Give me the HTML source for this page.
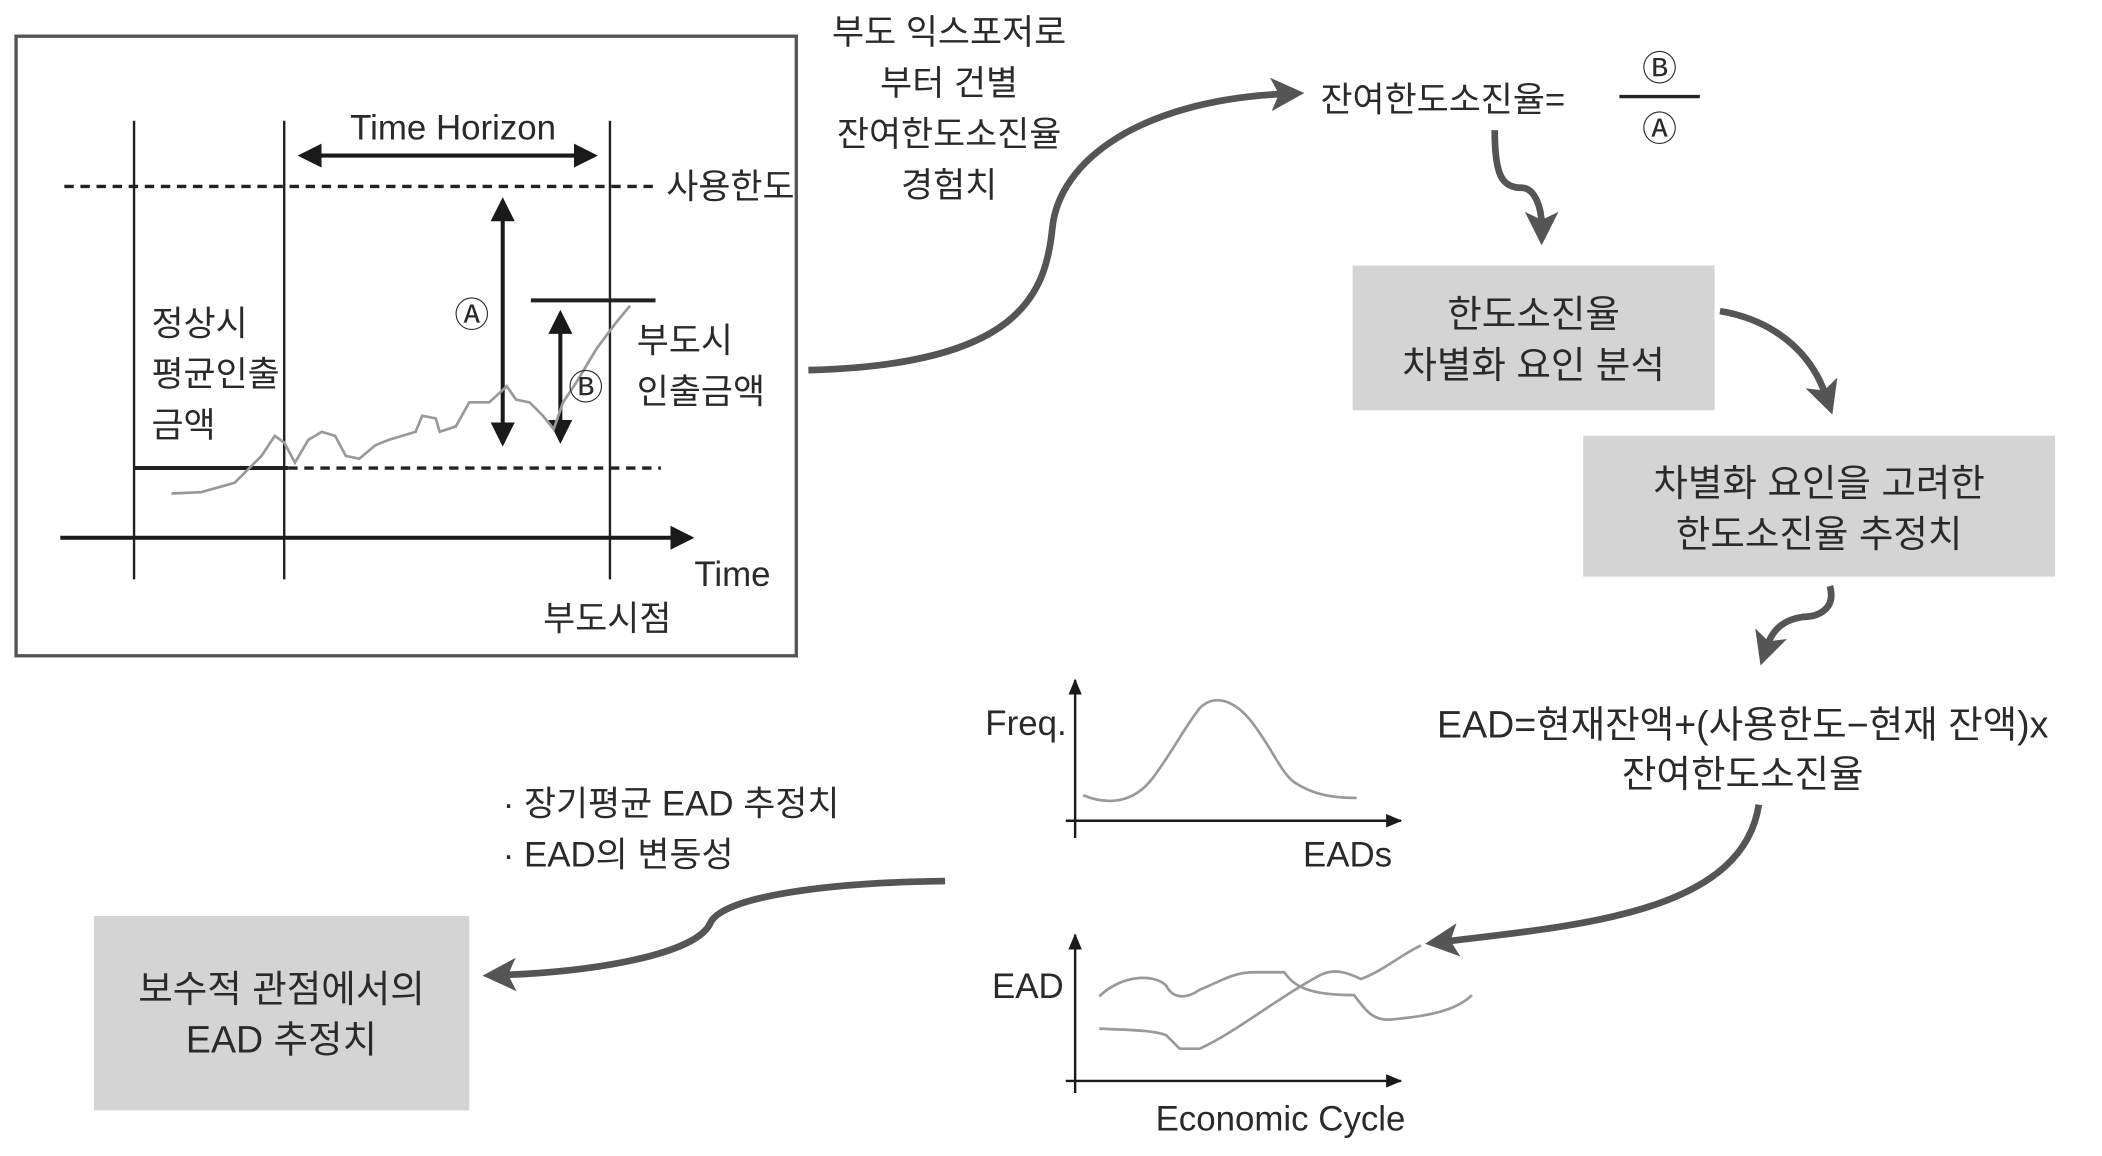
<!DOCTYPE html>
<html><head><meta charset="utf-8"><style>
html,body{margin:0;padding:0;background:#fff;}
svg{display:block;}
text{font-family:"Liberation Sans","Noto Sans CJK KR",sans-serif;fill:#2a2a2a;}
</style></head><body>
<svg width="2102" height="1156" viewBox="0 0 1568 862" preserveAspectRatio="none" xmlns="http://www.w3.org/2000/svg">
<defs>
<marker id="ah" markerWidth="6" markerHeight="6" refX="5" refY="3" orient="auto-start-reverse" markerUnits="strokeWidth"><path d="M0,0 L6,3 L0,6 z" fill="#1a1a1a"/></marker>
<marker id="bh" markerWidth="5" markerHeight="5" refX="2" refY="2.5" orient="auto" markerUnits="strokeWidth"><path d="M0,0 L5,2.5 L0,5 L1.2,2.5 z" fill="#555"/></marker>
<marker id="sh" markerWidth="12" markerHeight="10" refX="11" refY="5" orient="auto" markerUnits="userSpaceOnUse"><path d="M0,0 L12,5 L0,10 z" fill="#1a1a1a"/></marker>
</defs>
<rect x="12" y="27" width="582" height="462" fill="none" stroke="#555" stroke-width="2.5"/>
<g stroke="#222" stroke-width="1.8">
<line x1="100" y1="90" x2="100" y2="432"/>
<line x1="212" y1="90" x2="212" y2="432"/>
<line x1="455" y1="90" x2="455" y2="432"/>
</g>
<line x1="48" y1="139" x2="490" y2="139" stroke="#222" stroke-width="2.5" stroke-dasharray="7,5"/>
<line x1="215" y1="349" x2="493" y2="349" stroke="#222" stroke-width="2.5" stroke-dasharray="7,5"/>
<line x1="100" y1="349" x2="215" y2="349" stroke="#222" stroke-width="3"/>
<line x1="396" y1="224" x2="489" y2="224" stroke="#222" stroke-width="3"/>
<g stroke="#1a1a1a" stroke-width="3">
<line x1="225" y1="116" x2="443" y2="116" marker-start="url(#ah)" marker-end="url(#ah)"/>
<line x1="375" y1="150" x2="375" y2="330" marker-start="url(#ah)" marker-end="url(#ah)"/>
<line x1="418" y1="234" x2="418" y2="328" marker-start="url(#ah)" marker-end="url(#ah)"/>
<line x1="45" y1="401" x2="515" y2="401" marker-end="url(#ah)"/>
</g>
<polyline points="128,368 150,367 175,360 195,340 205,325 212,330 220,345 230,328 240,322 250,325 258,340 268,342 280,332 290,328 310,322 315,310 325,312 328,322 340,318 350,300 365,300 378,288 385,298 395,300 405,310 413,320 420,300 430,285 445,260 460,240 470,228" fill="none" stroke="#999" stroke-width="2"/>
<g font-size="26">
<text x="338" y="104" text-anchor="middle">Time Horizon</text>
<text x="497" y="148">사용한도</text>
<text x="352" y="244" text-anchor="middle">Ⓐ</text>
<text x="437" y="298" text-anchor="middle">Ⓑ</text>
<text x="113" y="250">정상시</text>
<text x="113" y="288">평균인출</text>
<text x="113" y="326">금액</text>
<text x="475" y="263">부도시</text>
<text x="475" y="301">인출금액</text>
<text x="518" y="437">Time</text>
<text x="453" y="470" text-anchor="middle">부도시점</text>
<text x="708" y="33" text-anchor="middle">부도 익스포저로</text>
<text x="708" y="71" text-anchor="middle">부터 건별</text>
<text x="708" y="109" text-anchor="middle">잔여한도소진율</text>
<text x="708" y="147" text-anchor="middle">경험치</text>
<text x="985" y="83">잔여한도소진율=</text>
<text x="1238" y="60" text-anchor="middle">Ⓑ</text>
<text x="1238" y="105" text-anchor="middle">Ⓐ</text>
</g>
<line x1="1208" y1="72" x2="1268" y2="72" stroke="#222" stroke-width="2.5"/>
<g fill="none" stroke="#555" stroke-width="5">
<path d="M603,276 C760,272 780,220 785,170 C790,120 850,75 958,70" marker-end="url(#bh)"/>
<path d="M1115,97 C1115,130 1120,140 1135,140 C1145,140 1150,155 1150,168" marker-end="url(#bh)"/>
<path d="M1283,232 C1320,238 1350,260 1362,295" marker-end="url(#bh)"/>
<path d="M1365,437 C1370,455 1355,460 1345,460 C1330,462 1322,470 1318,482" marker-end="url(#bh)"/>
<path d="M1312,600 C1300,680 1180,690 1078,702" marker-end="url(#bh)"/>
<path d="M705,657 C620,658 540,668 530,688 C520,712 440,725 375,727" marker-end="url(#bh)"/>
</g>
<rect x="1009" y="198" width="270" height="108" fill="#d4d4d4"/>
<rect x="1181" y="325" width="352" height="105" fill="#d4d4d4"/>
<rect x="70" y="683" width="280" height="145" fill="#d4d4d4"/>
<g font-size="28" text-anchor="middle">
<text x="1144" y="244">한도소진율</text>
<text x="1144" y="282">차별화 요인 분석</text>
<text x="1357" y="370">차별화 요인을 고려한</text>
<text x="1357" y="408">한도소진율 추정치</text>
<text x="210" y="747">보수적 관점에서의</text>
<text x="210" y="785">EAD 추정치</text>
<text x="1300" y="550">EAD=현재잔액+(사용한도−현재 잔액)x</text>
<text x="1300" y="587">잔여한도소진율</text>
</g>
<g font-size="26">
<text x="375" y="608">· 장기평균 EAD 추정치</text>
<text x="375" y="646">· EAD의 변동성</text>
<text x="735" y="548">Freq.</text>
<text x="972" y="646">EADs</text>
<text x="740" y="744">EAD</text>
<text x="862" y="843">Economic Cycle</text>
</g>
<g stroke="#1a1a1a" stroke-width="1.8">
<line x1="802" y1="625" x2="802" y2="507" marker-end="url(#sh)"/>
<line x1="795" y1="612" x2="1045" y2="612" marker-end="url(#sh)"/>
<line x1="802" y1="815" x2="802" y2="697" marker-end="url(#sh)"/>
<line x1="795" y1="806" x2="1045" y2="806" marker-end="url(#sh)"/>
</g>
<g fill="none" stroke="#999" stroke-width="2">
<path d="M808,593 C825,600 845,600 860,580 C875,560 885,540 895,528 C905,518 920,520 935,540 C950,560 955,575 965,583 C980,593 995,595 1012,595"/>
<path d="M820,743 C835,728 860,725 870,735 C875,745 885,745 895,738 C910,732 920,725 935,725 L958,725 C965,735 975,742 1010,742 C1020,755 1025,762 1040,760 C1060,758 1085,755 1098,742"/>
<path d="M820,767 C840,768 860,768 870,772 L880,782 L895,782 C910,775 925,765 940,755 C955,745 970,735 985,727 C995,722 1005,725 1015,730 C1030,725 1045,712 1060,705"/>
</g>
</svg>
</body></html>
